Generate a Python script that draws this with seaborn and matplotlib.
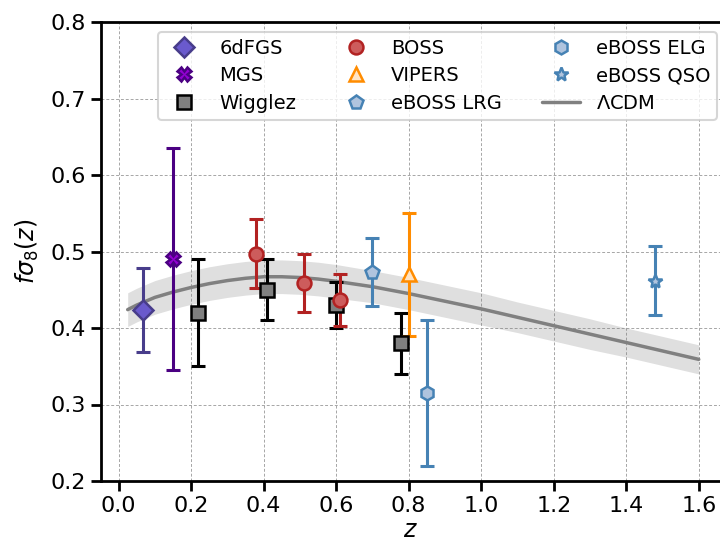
import numpy as np
import pandas as pd
import matplotlib
matplotlib.use("Agg")
import matplotlib.pyplot as plt
import seaborn as sns

# --- data ---
z_6df = [0.067]
f_6df = [0.423]
e_6df = [0.055]

z_mgs = [0.15]
f_mgs = [0.49]
e_mgs = [0.145]

z_wig = [0.22, 0.41, 0.60, 0.78]
f_wig = [0.42, 0.45, 0.43, 0.38]
e_wig = [0.07, 0.04, 0.03, 0.04]

z_boss = [0.38, 0.51, 0.61]
f_boss = [0.497, 0.459, 0.436]
e_boss = [0.045, 0.038, 0.034]

z_vip = [0.80]
f_vip = [0.47]
e_vip = [0.08]

z_lrg = [0.698]
f_lrg = [0.473]
e_lrg = [0.044]

z_elg = [0.85]
f_elg = [0.315]
e_elg = [0.095]

z_qso = [1.48]
f_qso = [0.462]
e_qso = [0.045]

# LCDM curve and its band
z_lcdm = [0.025, 0.05, 0.1, 0.15, 0.2, 0.25, 0.3, 0.35, 0.4, 0.45, 0.5, 0.55, 0.6,
          0.7, 0.8, 0.9, 1.0, 1.1, 1.2, 1.3, 1.4, 1.5, 1.6]
f_lcdm = [0.424, 0.430, 0.440, 0.447, 0.453, 0.458, 0.462, 0.465, 0.467, 0.467, 0.466,
          0.464, 0.461, 0.454, 0.445, 0.435, 0.425, 0.414, 0.403, 0.392, 0.381, 0.370, 0.359]
s_lcdm = [0.022, 0.022, 0.022, 0.022, 0.022, 0.022, 0.022, 0.022, 0.022, 0.022, 0.022,
          0.022, 0.022, 0.021, 0.021, 0.021, 0.021, 0.020, 0.020, 0.020, 0.019, 0.019, 0.019]

surveys = [
    # label, z, f, err, marker, face, edge/bar colour
    ("6dFGS", z_6df, f_6df, e_6df, "D", "slateblue", "darkslateblue"),
    ("MGS", z_mgs, f_mgs, e_mgs, "X", "darkviolet", "indigo"),
    ("Wigglez", z_wig, f_wig, e_wig, "s", "gray", "black"),
    ("BOSS", z_boss, f_boss, e_boss, "o", "indianred", "firebrick"),
    ("VIPERS", z_vip, f_vip, e_vip, "^", "bisque", "darkorange"),
    ("eBOSS LRG", z_lrg, f_lrg, e_lrg, "p", "lightsteelblue", "steelblue"),
    ("eBOSS ELG", z_elg, f_elg, e_elg, "h", "lightsteelblue", "steelblue"),
    ("eBOSS QSO", z_qso, f_qso, e_qso, "*", "lightsteelblue", "steelblue"),
]

sns.set_theme(style="ticks", context="talk")
plt.rcParams["font.family"] = ["DejaVu Sans"]
plt.rcParams["text.color"] = "black"
plt.rcParams["axes.labelcolor"] = "black"
plt.rcParams["xtick.color"] = "black"
plt.rcParams["ytick.color"] = "black"
plt.rcParams["axes.edgecolor"] = "black"

fig = plt.figure(figsize=(7.2, 5.45), dpi=100)
ax = fig.add_axes([100.5 / 720, 64 / 545, 620 / 720, 459 / 545])

ax.grid(True, ls=(0, (3, 2)), lw=0.7, color="0.65")
ax.set_axisbelow(True)

lcdm = pd.DataFrame({"z": z_lcdm, "f": f_lcdm, "s": s_lcdm})
ax.fill_between(lcdm["z"], lcdm["f"] - lcdm["s"], lcdm["f"] + lcdm["s"],
                color="gray", alpha=0.25, lw=0, zorder=1)
sns.lineplot(data=lcdm, x="z", y="f", ax=ax, color="gray", lw=2.5,
             label=r"$\Lambda$CDM", zorder=2)

handles = {}
for lab, zz, ff, ee, mk, fc, ec in surveys:
    ax.errorbar(zz, ff, yerr=ee, fmt="none", ecolor=ec, elinewidth=2.2,
                capsize=5, capthick=2.2, zorder=3)
    h, = ax.plot(zz, ff, ls="none", marker=mk, ms=10, mfc=fc, mec=ec,
                 mew=1.8, zorder=4, label=lab)
    handles[lab] = h

line_handle = ax.get_lines()[0]
order = ["6dFGS", "MGS", "Wigglez", "BOSS", "VIPERS", "eBOSS LRG",
         "eBOSS ELG", "eBOSS QSO"]
hs = [handles[k] for k in order] + [line_handle]
ls_ = order + [r"$\Lambda$CDM"]
ax.legend(hs, ls_, ncol=3, loc="upper right", fontsize=14,
          frameon=True, framealpha=0.8, columnspacing=2.05,
          handletextpad=0.8, borderpad=0.35, labelspacing=0.45,
          bbox_to_anchor=(1.0105, 1.0))

ax.set_xlim(-0.05, 1.66)
ax.set_ylim(0.2, 0.8)
ax.set_xticks(np.arange(0, 1.61, 0.2))
ax.set_yticks(np.arange(0.2, 0.81, 0.1))
ax.tick_params(axis="both", labelsize=16, width=2, length=7, colors="black")
for sp in ax.spines.values():
    sp.set_linewidth(2)
ax.set_xlabel(r"$z$", fontsize=17, labelpad=2)
ax.set_ylabel(r"$f\sigma_8(z)$", fontsize=17, labelpad=7)

fig.savefig("out.png", dpi=100)
